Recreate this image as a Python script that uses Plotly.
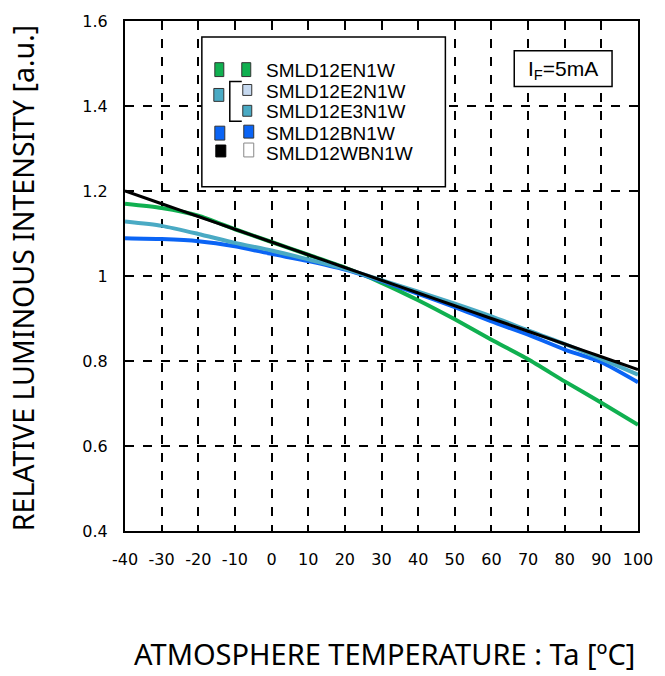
import plotly.graph_objects as go

temps = [-40, -30, -20, -10, 0, 10, 20, 30, 40, 50, 60, 70, 80, 90, 100]
en1w = [1.170, 1.160, 1.142, 1.110, 1.080, 1.050, 1.020, 0.984, 0.943, 0.898, 0.850, 0.804, 0.752, 0.702, 0.650]
e23n1w = [1.128, 1.118, 1.099, 1.078, 1.060, 1.039, 1.017, 0.990, 0.963, 0.935, 0.905, 0.872, 0.840, 0.805, 0.768]
bn1w = [1.089, 1.087, 1.082, 1.070, 1.052, 1.035, 1.015, 0.988, 0.958, 0.927, 0.893, 0.862, 0.827, 0.797, 0.750]
wbn1w = [1.200, 1.170, 1.140, 1.110, 1.080, 1.050, 1.020, 0.990, 0.960, 0.930, 0.900, 0.870, 0.840, 0.810, 0.780]

x_ticks = [-40, -30, -20, -10, 0, 10, 20, 30, 40, 50, 60, 70, 80, 90, 100]
y_ticks = [0.4, 0.6, 0.8, 1.0, 1.2, 1.4, 1.6]
y_labels = ["0.4", "0.6", "0.8", "1", "1.2", "1.4", "1.6"]

legend_names = ["SMLD12EN1W", "SMLD12E2N1W", "SMLD12E3N1W", "SMLD12BN1W", "SMLD12WBN1W"]

GREEN = "#10b050"
TEAL = "#4aaac4"
BLUE = "#0a64f5"
BLACK = "#000000"

W, H = 665, 676
# target plot box in screenshot pixels
PL, PR, PT, PB = 125, 639, 17, 531
L, T, R, B = PL, PT, W - PR, H - PB

fig = go.Figure()
series = [(en1w, GREEN, 4), (bn1w, BLUE, 4), (e23n1w, TEAL, 4), (wbn1w, BLACK, 3)]
for vals, col, w in series:
    fig.add_trace(go.Scatter(x=temps, y=vals, mode="lines",
                             line=dict(color=col, width=w, shape="spline", smoothing=0.6),
                             showlegend=False, hoverinfo="skip"))

def px(xp):
    return (xp - PL) / (PR - PL)

def py(yp):
    return 1 - (yp - PT) / (PB - PT)

shapes = []
anns = []

# legend box
shapes.append(dict(type="rect", xref="paper", yref="paper",
                   x0=px(202), x1=px(446), y0=py(184), y1=py(33),
                   line=dict(color="black", width=1.5), fillcolor="white", layer="above"))

def sw(x0, y0, x1, y1, fill, border="#333333"):
    shapes.append(dict(type="rect", xref="paper", yref="paper",
                       x0=px(x0), x1=px(x1), y0=py(y1), y1=py(y0),
                       line=dict(color=border, width=1), fillcolor=fill, layer="above"))

sw(215, 59, 224, 73, GREEN)
sw(242, 59, 251, 73, GREEN)
sw(214, 85, 224, 98, TEAL)
sw(243, 81, 252, 92, "#c6d9f0")
sw(243, 102, 252, 113, TEAL)
sw(215, 123, 225, 137, BLUE)
sw(244, 122, 254, 135, BLUE)
sw(216, 142, 226, 154, BLACK, BLACK)
sw(244, 140, 254, 154, "white", "#888888")

# bracket
shapes.append(dict(type="path", xref="paper", yref="paper",
                   path=f"M {px(242)} {py(78)} L {px(230)} {py(78)} L {px(230)} {py(118)} L {px(242)} {py(118)}",
                   line=dict(color="black", width=1.5), layer="above"))

rows_y = [67, 88, 108, 130, 151]
for name, yy in zip(legend_names, rows_y):
    anns.append(dict(xref="paper", yref="paper", x=px(264), y=py(yy), text=name,
                     showarrow=False, xanchor="left", yanchor="middle",
                     font=dict(family="Liberation Sans", size=19, color="black")))

# IF box
shapes.append(dict(type="rect", xref="paper", yref="paper",
                   x0=px(515), x1=px(613), y0=py(83), y1=py(47),
                   line=dict(color="black", width=1.5), fillcolor="white", layer="above"))
anns.append(dict(xref="paper", yref="paper", x=px(564), y=py(66), text="I<sub>F</sub>=5mA",
                 showarrow=False, xanchor="center", yanchor="middle",
                 font=dict(family="Liberation Sans", size=21, color="black")))

# axis titles
anns.append(dict(xref="paper", yref="paper", x=px(385), y=py(675),
                 text="ATMOSPHERE TEMPERATURE : Ta [ºC]", showarrow=False,
                 xanchor="center", yanchor="bottom", borderpad=0,
                 font=dict(family="Noto Sans", size=29, color="black")))
anns.append(dict(xref="paper", yref="paper", x=px(23), y=py(276),
                 text="RELATIVE LUMINOUS INTENSITY [a.u.]", showarrow=False, textangle=-90,
                 xanchor="center", yanchor="middle",
                 font=dict(family="Noto Sans", size=28.5, color="black")))

fig.update_layout(
    width=W, height=H,
    margin=dict(l=L, r=R, t=T, b=B),
    paper_bgcolor="white", plot_bgcolor="white",
    shapes=shapes, annotations=anns,
    showlegend=False,
)
fig.update_xaxes(range=[-40, 100], tickvals=x_ticks, ticktext=[str(v) for v in x_ticks],
                 showgrid=True, gridcolor="black", gridwidth=1.5, griddash="dash",
                 showline=True, linecolor="black", linewidth=2, mirror=True,
                 ticks="", ticklabelstandoff=13, zeroline=False,
                 tickfont=dict(family="DejaVu Sans", size=16, color="black"))
fig.update_yaxes(range=[0.4, 1.6], tickvals=y_ticks, ticktext=y_labels,
                 showgrid=True, gridcolor="black", gridwidth=1.5, griddash="dash",
                 showline=True, linecolor="black", linewidth=2, mirror=True,
                 ticks="", ticklabelstandoff=12, zeroline=False,
                 tickfont=dict(family="DejaVu Sans", size=16, color="black"))

fig.write_html("out.html", config={"displayModeBar": False},
               post_script="document.body.style.margin='0px';document.body.style.overflow='hidden';")
